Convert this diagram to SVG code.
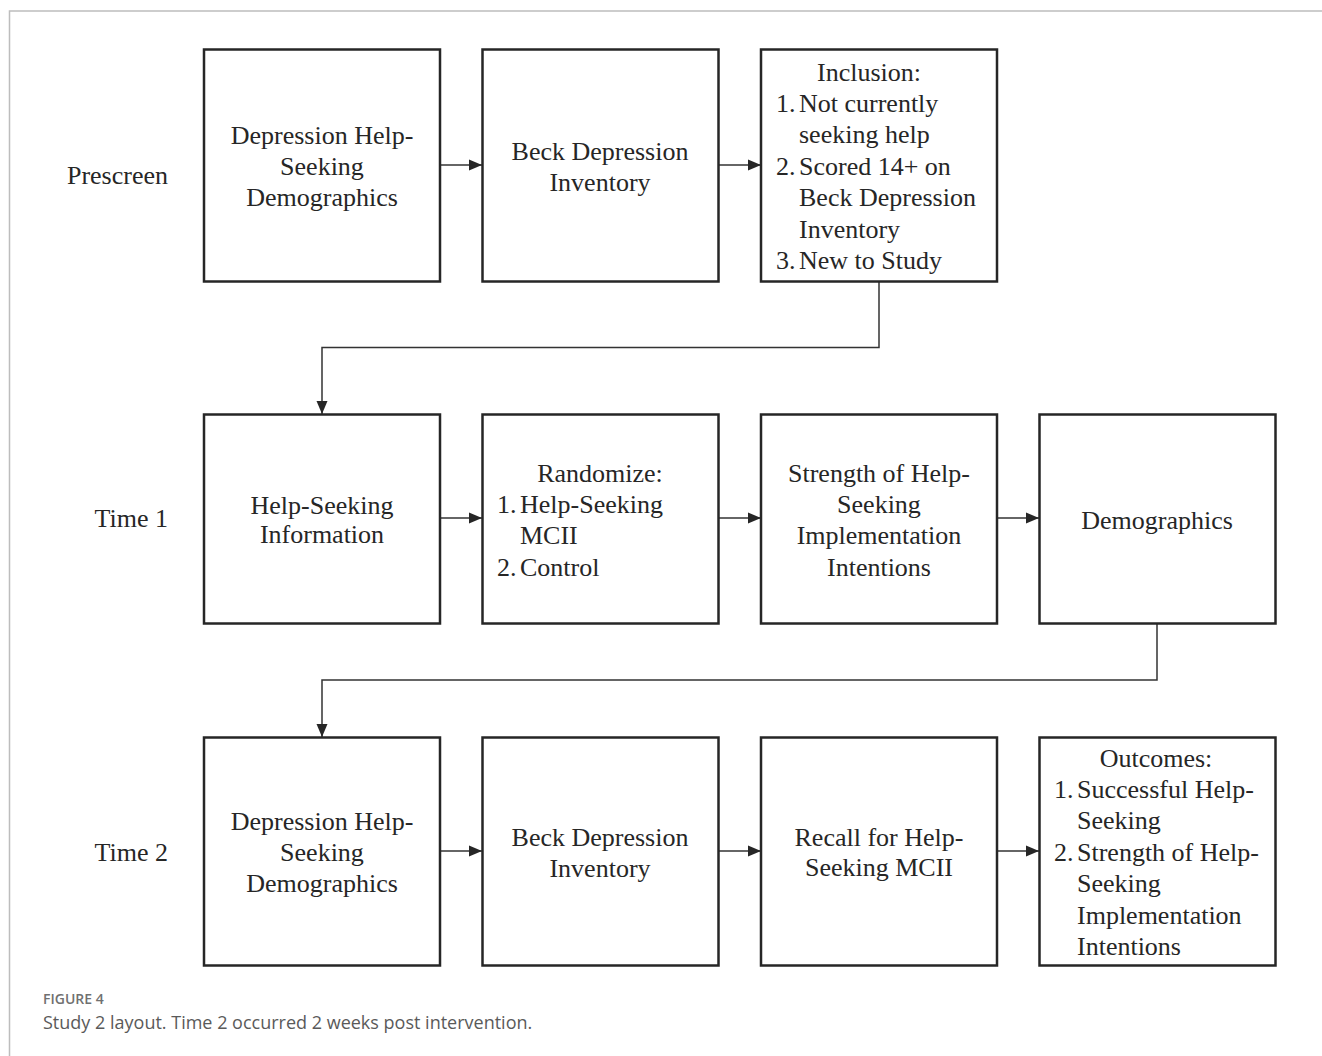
<svg xmlns="http://www.w3.org/2000/svg" width="1322" height="1056" viewBox="0 0 1322 1056">
<style>
.box{fill:#fff;stroke:#262626;stroke-width:2.5}
.t{font-family:"Liberation Serif","Times New Roman",serif;font-size:26px;fill:#262626}
.c{text-anchor:middle}
.r{text-anchor:end}
.con{fill:none;stroke:#333;stroke-width:1.5}
.frame{fill:none;stroke:#bdbdbd;stroke-width:1.5}
.cap1{font-family:"Open Sans","Noto Sans",sans-serif;font-size:14px;fill:#707070;font-weight:600}
.cap2{font-family:"Open Sans","Noto Sans",sans-serif;font-size:18px;fill:#5a5a5a}
</style>
<defs>
<marker id="ah" markerUnits="userSpaceOnUse" markerWidth="14" markerHeight="14" viewBox="0 0 14 14" refX="13" refY="7" orient="auto">
<path d="M0,1.5 L13,7 L0,12.5 Z" fill="#262626"/>
</marker>
</defs>
<rect width="1322" height="1056" fill="#fff"/>
<path class="frame" d="M1322,11 H9.5 V1056"/>

<g id="row-labels">
<text class="t r" x="168" y="184">Prescreen</text>
<text class="t r" x="168" y="527">Time 1</text>
<text class="t r" x="168" y="861">Time 2</text>
</g>

<g id="connectors">
<line class="con" x1="440" y1="165" x2="482" y2="165" marker-end="url(#ah)"/>
<line class="con" x1="718" y1="165" x2="761" y2="165" marker-end="url(#ah)"/>
<path class="con" d="M879,281 V347.5 H322 V414" marker-end="url(#ah)"/>
<line class="con" x1="440" y1="518" x2="482" y2="518" marker-end="url(#ah)"/>
<line class="con" x1="718" y1="518" x2="761" y2="518" marker-end="url(#ah)"/>
<line class="con" x1="997" y1="518" x2="1039" y2="518" marker-end="url(#ah)"/>
<path class="con" d="M1157,623 V680 H322 V737" marker-end="url(#ah)"/>
<line class="con" x1="440" y1="851" x2="482" y2="851" marker-end="url(#ah)"/>
<line class="con" x1="718" y1="851" x2="761" y2="851" marker-end="url(#ah)"/>
<line class="con" x1="997" y1="851" x2="1039" y2="851" marker-end="url(#ah)"/>
</g>

<g id="n-prescreen-dhs">
<rect class="box" x="204" y="49.5" width="236" height="232"/>
<text class="t c" x="322" y="144">Depression Help-</text>
<text class="t c" x="322" y="175">Seeking</text>
<text class="t c" x="322" y="206">Demographics</text>
</g>
<g id="n-prescreen-bdi">
<rect class="box" x="482.5" y="49.5" width="236" height="232"/>
<text class="t c" x="600" y="160">Beck Depression</text>
<text class="t c" x="600" y="191">Inventory</text>
</g>
<g id="n-inclusion">
<rect class="box" x="761" y="49.5" width="236" height="232"/>
<text class="t c" x="869" y="81">Inclusion:</text>
<text class="t" x="776" y="112">1.</text><text class="t" x="799" y="112">Not currently</text>
<text class="t" x="799" y="143">seeking help</text>
<text class="t" x="776" y="175">2.</text><text class="t" x="799" y="175">Scored 14+ on</text>
<text class="t" x="799" y="206">Beck Depression</text>
<text class="t" x="799" y="238">Inventory</text>
<text class="t" x="776" y="269">3.</text><text class="t" x="799" y="269">New to Study</text>
</g>

<g id="n-t1-info">
<rect class="box" x="204" y="414.5" width="236" height="209"/>
<text class="t c" x="322" y="514">Help-Seeking</text>
<text class="t c" x="322" y="543">Information</text>
</g>
<g id="n-t1-random">
<rect class="box" x="482.5" y="414.5" width="236" height="209"/>
<text class="t c" x="600" y="482">Randomize:</text>
<text class="t" x="497" y="513">1.</text><text class="t" x="520" y="513">Help-Seeking</text>
<text class="t" x="520" y="544">MCII</text>
<text class="t" x="497" y="576">2.</text><text class="t" x="520" y="576">Control</text>
</g>
<g id="n-t1-strength">
<rect class="box" x="761" y="414.5" width="236" height="209"/>
<text class="t c" x="879" y="482">Strength of Help-</text>
<text class="t c" x="879" y="513">Seeking</text>
<text class="t c" x="879" y="544">Implementation</text>
<text class="t c" x="879" y="576">Intentions</text>
</g>
<g id="n-t1-demo">
<rect class="box" x="1039.5" y="414.5" width="236" height="209"/>
<text class="t c" x="1157" y="529">Demographics</text>
</g>

<g id="n-t2-dhs">
<rect class="box" x="204" y="737.5" width="236" height="228"/>
<text class="t c" x="322" y="830">Depression Help-</text>
<text class="t c" x="322" y="861">Seeking</text>
<text class="t c" x="322" y="892">Demographics</text>
</g>
<g id="n-t2-bdi">
<rect class="box" x="482.5" y="737.5" width="236" height="228"/>
<text class="t c" x="600" y="846">Beck Depression</text>
<text class="t c" x="600" y="877">Inventory</text>
</g>
<g id="n-t2-recall">
<rect class="box" x="761" y="737.5" width="236" height="228"/>
<text class="t c" x="879" y="846">Recall for Help-</text>
<text class="t c" x="879" y="876">Seeking MCII</text>
</g>
<g id="n-outcomes">
<rect class="box" x="1039.5" y="737.5" width="236" height="228"/>
<text class="t c" x="1156" y="767">Outcomes:</text>
<text class="t" x="1054" y="798">1.</text><text class="t" x="1077" y="798">Successful Help-</text>
<text class="t" x="1077" y="829">Seeking</text>
<text class="t" x="1054" y="861">2.</text><text class="t" x="1077" y="861">Strength of Help-</text>
<text class="t" x="1077" y="892">Seeking</text>
<text class="t" x="1077" y="924">Implementation</text>
<text class="t" x="1077" y="955">Intentions</text>
</g>

<g id="caption">
<text class="cap1" x="43" y="1004">FIGURE 4</text>
<text class="cap2" x="43" y="1029">Study 2 layout. Time 2 occurred 2 weeks post intervention.</text>
</g>
</svg>
